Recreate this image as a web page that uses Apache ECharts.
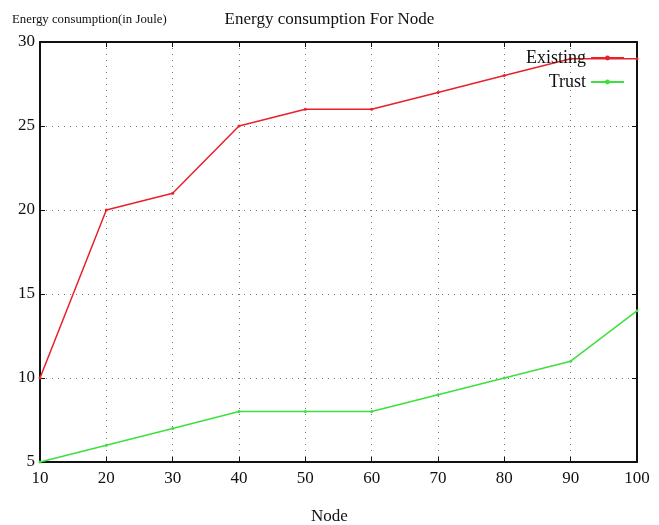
<!DOCTYPE html>
<html>
<head>
<meta charset="utf-8">
<script src="https://cdn.jsdelivr.net/npm/echarts@6/dist/echarts.min.js"></script>
<style>
  html, body { margin: 0; padding: 0; background: #fff; }
  #chart { width: 659px; height: 525px; }
</style>
</head>
<body>
<div id="chart"></div>
<script>
// node counts on the x axis
const nodes = [10, 20, 30, 40, 50, 60, 70, 80, 90, 100]
// energy consumption (Joule)
const existingValues = [10, 20, 21, 25, 26, 26, 27, 28, 29, 29]
const trustValues = [5, 6, 7, 8, 8, 8, 9, 10, 11, 14]
const seriesNames = ['Existing', 'Trust']

const font = 'Liberation Serif, Times New Roman, serif'
const axisBlack = { lineStyle: { color: '#111', width: 2 } }
const dotted = { show: true, lineStyle: { color: '#777', type: [1, 5], width: 1 } }

const chart = echarts.init(document.getElementById('chart'))

const toPairs = vals => nodes.map((n, i) => [n, vals[i]])

const option = {
  animation: false,
  backgroundColor: '#fff',
  textStyle: { fontFamily: font },
  title: [
    {
      text: 'Energy consumption For Node',
      left: 'center',
      top: 6,
      textStyle: { fontFamily: font, fontSize: 17, fontWeight: 'normal', color: '#111' }
    },
    {
      text: 'Energy consumption(in Joule)',
      left: 7,
      top: 8,
      textStyle: { fontFamily: font, fontSize: 12.8, fontWeight: 'normal', color: '#111' }
    },
    {
      text: 'Node',
      left: 'center',
      top: 503,
      textStyle: { fontFamily: font, fontSize: 17, fontWeight: 'normal', color: '#111' }
    }
  ],
  grid: { left: 40, right: 22, top: 42, bottom: 63, containLabel: false },
  legend: {
    data: seriesNames,
    orient: 'vertical',
    align: 'right',
    right: 34,
    top: 49,
    padding: 0,
    itemWidth: 33,
    itemHeight: 6,
    itemGap: 6,
    textStyle: { fontFamily: font, fontSize: 18, color: '#111' }
  },
  xAxis: [
    {
      type: 'value',
      min: 10,
      max: 100,
      interval: 10,
      axisLine: axisBlack,
      axisTick: { inside: true, length: 5, lineStyle: { color: '#111' } },
      axisLabel: { fontFamily: font, fontSize: 17, color: '#111', margin: 8 },
      splitLine: dotted
    },
    {
      type: 'value',
      position: 'top',
      min: 10,
      max: 100,
      interval: 10,
      axisLine: axisBlack,
      axisTick: { inside: true, length: 5, lineStyle: { color: '#111' } },
      axisLabel: { show: false },
      splitLine: { show: false }
    }
  ],
  yAxis: [
    {
      type: 'value',
      min: 5,
      max: 30,
      interval: 5,
      axisLine: { show: true, lineStyle: { color: '#111', width: 2 } },
      axisTick: { show: true, inside: true, length: 5, lineStyle: { color: '#111' } },
      axisLabel: { fontFamily: font, fontSize: 17, color: '#111', margin: 5 },
      splitLine: dotted
    },
    {
      type: 'value',
      position: 'right',
      min: 5,
      max: 30,
      interval: 5,
      axisLine: { show: true, lineStyle: { color: '#111', width: 2 } },
      axisTick: { show: true, inside: true, length: 5, lineStyle: { color: '#111' } },
      axisLabel: { show: false },
      splitLine: { show: false }
    }
  ],
  series: [
    {
      name: seriesNames[0],
      type: 'line',
      data: toPairs(existingValues),
      symbol: 'circle',
      symbolSize: 3,
      lineStyle: { color: '#e8202a', width: 1.5 },
      itemStyle: { color: '#e8202a' }
    },
    {
      name: seriesNames[1],
      type: 'line',
      data: toPairs(trustValues),
      symbol: 'circle',
      symbolSize: 3,
      lineStyle: { color: '#3ee03e', width: 1.5 },
      itemStyle: { color: '#3ee03e' }
    }
  ]
}

chart.setOption(option)
</script>
</body>
</html>
